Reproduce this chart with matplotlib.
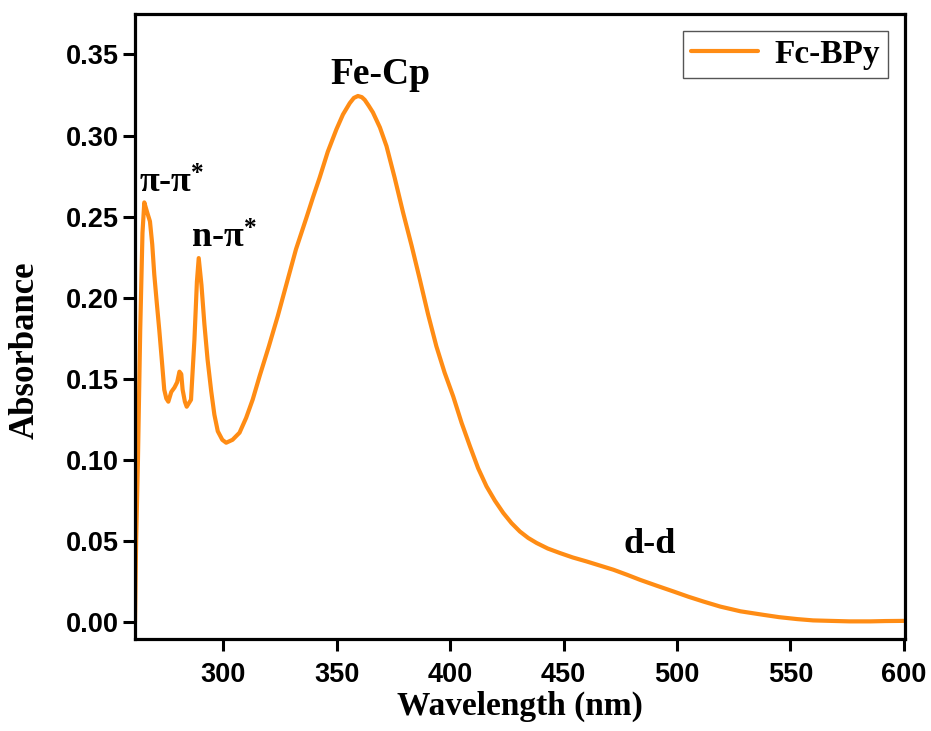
import matplotlib
matplotlib.use("Agg")
import matplotlib.pyplot as plt

# Data (wavelength nm, absorbance)
wavelength = [261.0, 261.5, 262.3, 263.3, 264.3, 265.1, 266.3, 267.6, 268.6, 269.5,
              270.6, 271.7, 272.8, 273.9, 274.8, 275.7, 277.0, 278.4, 279.6, 280.6,
              281.4, 282.0, 283.0, 283.8, 285.7, 287.2, 288.3, 289.1, 290.3, 291.6,
              293.0, 294.6, 296.0, 297.5, 299.5, 301.2, 304.0, 307.1, 310.0, 312.9,
              316.0, 320.0, 324.0, 327.7, 332.0, 336.5, 339.5, 342.4, 346.0, 349.8,
              352.7, 355.7, 357.5, 359.3, 361.0, 362.3, 364.0, 365.9, 369.0, 371.9,
              375.5, 379.2, 383.0, 386.6, 390.2, 393.9, 397.5, 401.3, 405.0, 408.7,
              412.3, 416.0, 419.7, 423.4, 427.0, 430.7, 434.4, 438.1, 443.0, 448.4,
              454.0, 460.2, 466.0, 472.0, 478.0, 483.7, 491.0, 498.5, 505.0, 511.7,
              519.1, 528.0, 538.2, 545.0, 553.0, 560.0, 567.7, 576.0, 585.3, 592.0,
              600.0]
absorbance = [0.000, 0.050, 0.100, 0.180, 0.240, 0.2588, 0.2530, 0.2471, 0.2330, 0.2144,
              0.1970, 0.1803, 0.1620, 0.1434, 0.1380, 0.1360, 0.1420, 0.1447, 0.1480, 0.1545,
              0.1530, 0.1434, 0.1360, 0.1329, 0.1372, 0.1740, 0.2100, 0.2245, 0.2080, 0.1838,
              0.1620, 0.1425, 0.1280, 0.1178, 0.1125, 0.1107, 0.1125, 0.1169, 0.1260, 0.1373,
              0.1520, 0.1700, 0.1890, 0.2080, 0.2300, 0.2490, 0.2620, 0.2740, 0.2900, 0.3038,
              0.3130, 0.3200, 0.3232, 0.3244, 0.3237, 0.3220, 0.3185, 0.3143, 0.3050, 0.2935,
              0.2740, 0.2526, 0.2320, 0.2113, 0.1900, 0.1701, 0.1540, 0.1393, 0.1230, 0.1085,
              0.0950, 0.0838, 0.0750, 0.0674, 0.0612, 0.0560, 0.0520, 0.0489, 0.0455, 0.0427,
              0.0400, 0.0375, 0.0350, 0.0324, 0.0293, 0.0262, 0.0226, 0.0190, 0.0158, 0.0128,
              0.0097, 0.0068, 0.0046, 0.0032, 0.0020, 0.0012, 0.0009, 0.0006, 0.0006, 0.0008,
              0.0009]

xticks = [300, 350, 400, 450, 500, 550, 600]
yticks = [0.00, 0.05, 0.10, 0.15, 0.20, 0.25, 0.30, 0.35]
series_label = "Fc-BPy"
line_color = "#FF8C14"

plt.rcParams['mathtext.fontset'] = 'custom'
plt.rcParams['mathtext.rm'] = 'Liberation Serif:bold'
plt.rcParams['mathtext.bf'] = 'Liberation Serif:bold'
plt.rcParams['mathtext.it'] = 'Liberation Serif:bold'
plt.rcParams['mathtext.default'] = 'rm'

fig = plt.figure(figsize=(9.31, 7.31), dpi=100)
ax = fig.add_axes([0.145, 0.126, 0.827, 0.855])

ax.plot(wavelength, absorbance, color=line_color, lw=3.0, label=series_label,
        solid_joinstyle='round', solid_capstyle='round')

ax.set_xlim(261, 600.5)
ax.set_ylim(-0.0102, 0.375)
ax.set_xticks(xticks)
ax.set_yticks(yticks)
ax.set_yticklabels([f"{v:.2f}" for v in yticks])

for s in ax.spines.values():
    s.set_linewidth(2.3)
ax.tick_params(axis='both', direction='out', length=8.5, width=2.2,
               top=False, right=False)
ax.tick_params(axis='y', pad=3)
ax.tick_params(axis='x', pad=8)
for lab in ax.get_xticklabels() + ax.get_yticklabels():
    lab.set_fontfamily('Liberation Sans')
    lab.set_fontweight('bold')
    lab.set_fontsize(19.5)

ax.set_xlabel("Wavelength (nm)", fontfamily='Liberation Serif', fontweight='bold',
              fontsize=24, labelpad=2)
ax.set_ylabel("Absorbance", fontfamily='Liberation Serif', fontweight='bold',
              fontsize=25, labelpad=12)
ax.yaxis.set_label_coords(-0.121, 0.462)

tfont = dict(fontfamily='Liberation Serif', fontweight='bold', fontsize=26)
ax.text(262.6, 0.260, "π-π$^{*}$", ha='left', va='bottom', **tfont)
ax.text(285.5, 0.226, "n-π$^{*}$", ha='left', va='bottom', **tfont)
ax.text(369, 0.327, "Fe-Cp", ha='center', va='bottom', fontfamily='Liberation Serif',
        fontweight='bold', fontsize=27)
ax.text(488, 0.038, "d-d", ha='center', va='bottom', **tfont)

leg = ax.legend(loc='upper right', prop=dict(family='Liberation Serif', weight='bold', size=24),
                fancybox=False, framealpha=1, edgecolor='#555555', handlelength=2.0,
                borderpad=0.25, handletextpad=0.5, borderaxespad=0.5)
leg.get_frame().set_linewidth(1.0)

fig.savefig("out.png", dpi=100)
